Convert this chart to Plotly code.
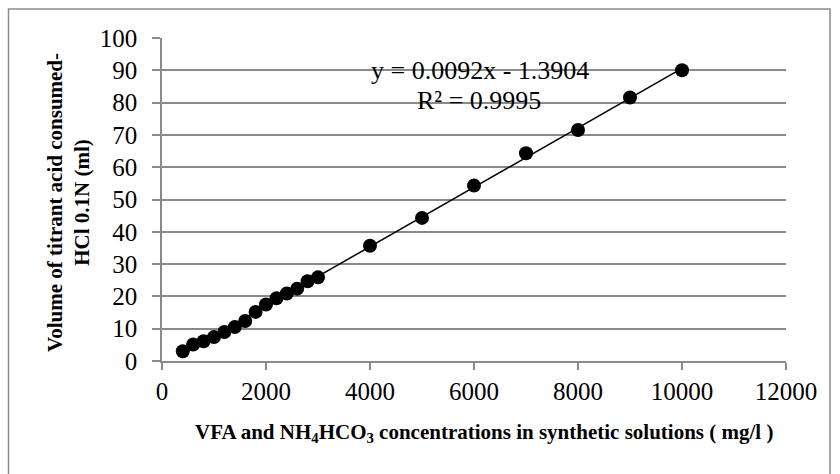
import plotly.graph_objects as go

conc = [400, 600, 800, 1000, 1200, 1400, 1600, 1800, 2000, 2200, 2400, 2600, 2800, 3000,
        4000, 5000, 6000, 7000, 8000, 9000, 10000]
volume = [3.0, 5.1, 6.1, 7.4, 9.0, 10.5, 12.4, 15.2, 17.5, 19.4, 20.9, 22.4, 24.7, 25.9,
          35.7, 44.3, 54.3, 64.3, 71.5, 81.6, 90.0]
slope = 0.0092
intercept = -1.3904
r2 = 0.9995
x_ticks = [0, 2000, 4000, 6000, 8000, 10000, 12000]
x_tick_text = ["0", "2000", "4000", "6000", "8000", "10000", "12000"]
y_ticks = [0, 10, 20, 30, 40, 50, 60, 70, 80, 90, 100]
y_tick_text = ["0", "10", "20", "30", "40", "50", "60", "70", "80", "90", "100"]

W, H = 840, 474
L, R, T, B = 162, 54, 38, 113
pw, ph = W - L - R, H - T - B

def px_x(p):
    return (p - L) / pw

def px_y(p):
    return (H - B - p) / ph

trend_x = [min(conc), max(conc)]
trend_y = [slope * v + intercept for v in trend_x]

serif = "Liberation Serif, Times New Roman, serif"
grid = "#8a8a8a"

fig = go.Figure()
fig.add_trace(go.Scatter(x=trend_x, y=trend_y, mode="lines",
                         line=dict(color="black", width=1.5), showlegend=False,
                         hoverinfo="skip"))
fig.add_trace(go.Scatter(x=conc, y=volume, mode="markers",
                         marker=dict(color="black", size=14), showlegend=False))

fig.add_annotation(x=px_x(480), y=px_y(70), xref="paper", yref="paper",
                   xanchor="center", yanchor="middle",
                   text=f"y = {slope}x - {abs(intercept)}", showarrow=False,
                   font=dict(family=serif, size=26, color="black"))
fig.add_annotation(x=px_x(479), y=px_y(100), xref="paper", yref="paper",
                   xanchor="center", yanchor="middle",
                   text=f"R² = {r2}", showarrow=False,
                   font=dict(family=serif, size=26, color="black"))

# axis titles
fig.add_annotation(x=px_x(484), y=px_y(433), xref="paper", yref="paper",
                   xanchor="center", yanchor="middle",
                   text="<b>VFA and NH<sub>4</sub>HCO<sub>3</sub> concentrations in synthetic solutions ( mg/l )</b>",
                   showarrow=False, font=dict(family=serif, size=21, color="black"))
fig.add_annotation(x=px_x(68), y=px_y(203), xref="paper", yref="paper",
                   xanchor="center", yanchor="middle",
                   text="<b>Volume of titrant acid consumed-<br>HCl 0.1N (ml)</b>",
                   textangle=-90, showarrow=False,
                   font=dict(family=serif, size=21, color="black"))

fig.add_shape(type="rect", xref="paper", yref="paper",
              x0=px_x(8.5), x1=px_x(830), y0=px_y(490), y1=px_y(9),
              line=dict(color="#8a8a8a", width=1.5), fillcolor="rgba(0,0,0,0)",
              layer="below")

fig.update_layout(
    width=W, height=H,
    margin=dict(l=L, r=R, t=T, b=B),
    paper_bgcolor="white", plot_bgcolor="white",
    font=dict(family=serif, color="black"),
    xaxis=dict(range=[0, 12000], tickvals=x_ticks, ticktext=x_tick_text, showgrid=False,
               showline=True, linecolor=grid, linewidth=1.5,
               ticks="outside", ticklen=7, tickwidth=1.5, tickcolor=grid,
               tickfont=dict(family=serif, size=25), zeroline=False),
    yaxis=dict(range=[0, 100], tickvals=y_ticks, ticktext=y_tick_text, showgrid=True,
               gridcolor=grid, gridwidth=1.5, showline=True, linecolor=grid, linewidth=1.5,
               ticks="outside", ticklen=8, tickwidth=1.5, tickcolor=grid,
               ticklabelstandoff=10,
               tickfont=dict(family=serif, size=25), zeroline=False),
)

fig.write_html("out.html")
